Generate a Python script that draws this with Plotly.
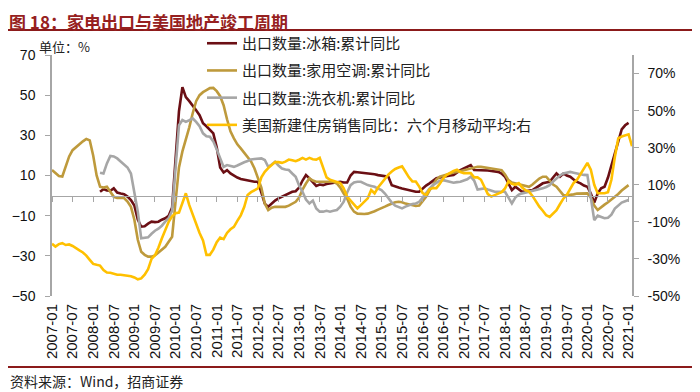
import pandas as pd
import plotly.graph_objects as go

# ---------------- data ----------------
months = pd.date_range("2007-01-01", "2021-02-01", freq="MS").strftime("%Y-%m").tolist()
tick_labels = months[::6]

# 出口数量:家用空调:累计同比 (2007-01 .. 2021-01)
ac = [12.7, 11, 9.7, 9.5, 14, 19.5, 22.6, 24.2, 25.5, 27, 28.2, 27.5,
      20, 10, 4.4, 4.0, 4.4, 2, -0.6, -1.2, -1.2, -1.2, -3, -5.6,
      -12, -22, -28, -29.5, -30.4, -30.4, -29.8, -28.5, -27, -25.5, -23, -20.5,
      -3, 14, 22, 27.6, 34, 41, 47, 50, 51.5, 52.5, 53.5, 53.6,
      52, 49.5, 45, 38, 32, 28.5, 25.5, 23.5, 21.5, 19, 17, 13.5,
      9, 4, -4, -7.2, -6, -5.6, -5.6, -5.6, -5.6, -5, -4, -3.1,
      -1, 3, 6, 8.6, 7.5, 6.9, 6.9, 6.9, 6.9, 6.9, 6.9, 6,
      4, 1, -1.5, -5.5, -8, -9, -9.2, -9.2, -9, -8.5, -7.8, -7,
      -6.4, -5.5, -4.7, -4, -3.3, -3.1, -3.3, -4, -4.5, -4.7, -5.2, -5,
      -3, -0.6, 2.5, 5.5, 8, 9.4, 10, 10.5, 11, 11.5, 11.8, 12.2,
      12.8, 13.2, 13.5, 14, 14.3, 14.3, 14, 13.8, 13.5, 13.2, 13, 12.7,
      10.5, 7.7, 6.5, 6.1, 5.6, 5.2, 4.8, 4.4, 5.5, 7, 8.5, 9.4,
      9.4, 7.5, 5.5, 4.4, 2, 0.2, 0.2, 0.3, 0.6, 1, 1.1, 1.1,
      1.1, -1, -5, -7.2, -5.6, -4.5, -3.3, -2, -0.8, 0.8, 2.5, 4, 5.2]

# 出口数量:冰箱:累计同比 (2008-03 .. 2021-01)
fridge_start = "2008-03"
fridge = [1.9, 3.2, 2.5, 2.4, 3.6, 1.5, 1, 0.7, -0.5, -2.2,
          -5, -12, -15.5, -15.3, -14, -13, -13.2, -13, -12, -11.3, -10, -6,
          18, 42, 54, 49, 47, 45, 42.5, 40, 36, 34.5, 32.5, 31,
          24, 14, 11.5, 12.7, 11, 9.8, 9, 8.3, 7.9, 7.7, 7.2, 6.9,
          6.9, 1, -4, -5.6, -4, -2.5, -1.4, -0.6, 0.2, 0.8, 1.9, 2.2,
          4, 7.5, 10.2, 8.6, 6.5, 4.8, 5.5, 5.2, 5.8, 6.1, 6.5, 6.9,
          6.9, 6.5, 6.5, 10, 11.8, 11.6, 11.4, 11.2, 11.1, 11, 10.6, 10.2,
          10, 9.7, 9.4, 5.2, 4.4, 4, 3.5, 3.1, 2.7, 2.3, 1.9, 1.9,
          3.5, 5, 6.1, 7.5, 8.6, 9, 9.4, 9.8, 10, 10.2, 11.5, 12.7,
          13.5, 14.5, 15.2, 12.7, 12.7, 12.7, 12.7, 12.5, 12.2, 12, 11.8, 11,
          9.4, 6, 2.7, 4.4, 3, 1.9, 2.2, 2.5, 2.7, 3.8, 5, 6.1,
          6.5, 6.9, 9, 11, 9.4, 11, 10, 9.4, 8, 6.8, 6.1, 5,
          4.4, 1, -3.5, 1, 3.6, 4.4, 9, 15, 21, 27, 33, 35, 36.2]

# 出口数量:洗衣机:累计同比 (2008-03 .. 2021-01)
washer_start = "2008-03"
washer = [11.4, 11, 16, 19.7, 19.5, 18.5, 17, 15.5, 14, 11,
          2, -8, -21.3, -21, -20.8, -19, -17.5, -16.5, -15, -13, -11.3, -7.5,
          15, 35, 37.6, 36.7, 37.5, 38.4, 36.7, 34.5, 31, 29.5, 29.3, 27,
          23, 19, 14.3, 15.2, 14.8, 14.3, 15, 16, 16.6, 17.2, 18, 18.2,
          18.3, 18.5, 17.7, 14.3, 15.5, 16.8, 15, 13.5, 13, 12.7, 11, 9.4,
          5, 1.9, -2, -3.9, -2.5, -6.4, -8, -8, -7.6, -8, -7.6, -7.2,
          -5.5, -3, 1.5, 5.2, 6.5, 6.9, 6.9, 6, 5.2, 4.8, 4.4, 3.5,
          2.7, 1, -1.4, -3.5, -5, -5.6, -6.4, -5.5, -4.7, -4.2, -3.9, -3.1,
          -1, 1.5, 3.5, 5.2, 6.5, 7.4, 7.7, 7.2, 6.6, 6.4, 6.7, 6.9,
          7.5, 8.1, 9.4, 7.5, 3, 3.2, 3.6, 3, 2.5, 1.9, 1.9, 1.9,
          1.9, -1, -3.9, -1, 0.5, 1.1, 1.5, 1.9, 2.3, 2.7, 3.2, 3.6,
          4.3, 5.2, 7, 8.6, 10, 11, 11.5, 11.8, 11.4, 11, 10.6, 10.3,
          10.2, -2, -12.2, -10, -10.5, -11.3, -11, -9.5, -6.5, -5, -3.5, -2.8, -2.2]

# 美国新建住房销售同比：六个月移动平均 (right axis, 2007-01 .. 2021-02)
us_home = [-21.8, -23.3, -22, -21.5, -22.5, -22.2, -23, -24, -25.4, -26.5, -28.2, -30.5,
           -32.7, -33.2, -33.6, -36, -37.3, -37.5, -38, -38.5, -38.5, -38.7, -39, -39.3,
           -40, -41, -40.5, -38.5, -35.5, -30, -28, -24, -19, -14, -10, -7,
           -5.4, -5, 0, 5.4, -1, -6, -12, -16, -20, -27.8, -27.8, -25,
           -21, -18.5, -19.3, -16, -14, -12.7, -9.5, -6.5, -2, 4.5, 6, 6.9,
           8, 14, 17, 19, 20.9, 22.3, 22.2, 21.8, 22.5, 23.6, 23.2, 22.7,
           23.5, 24.5, 23.6, 24.5, 23.8, 23.6, 24.5, 19, 14, 12.7, 12.2, 11.5,
           10.9, 8, 3.6, 1.5, -0.9, -2.7, -1, 0.9, 2.7, 7.2, 5.4, 8.5,
           10.9, 13.6, 15.5, 17.2, 18.5, 19.3, 19.9, 17, 14, 11.8, 11.8, 9,
           5.5, 4.5, 7.5, 8.2, 8.2, 10.5, 13.5, 15.4, 16.5, 17.5, 18.1, 16.8,
           16.3, 16.3, 16.3, 14, 14, 12.7, 9, 5, 3.6, 4.5, 5.4, 6,
           8, 11.8, 10.5, 10, 10.9, 8.5, 7, 6.3, 4, 1, -1.8, -4,
           -6.4, -7.3, -5.5, -3.7, -0.5, 2.5, 4.5, 7.5, 11, 12.7, 15.5, 19,
           21.8, 18.1, 10, 5.4, 5.4, 5.4, 6, 12.7, 25, 35, 36, 36.5, 37.2, 30.8]

names = ["出口数量:冰箱:累计同比", "出口数量:家用空调:累计同比",
         "出口数量:洗衣机:累计同比", "美国新建住房销售同比：六个月移动平均:右"]
colors = ["#6B0F14", "#BE9A3C", "#A6A6A6", "#FFC000"]

left_ticks = [-50, -30, -10, 10, 30, 50, 70]
right_ticks = [-50, -30, -10, 10, 30, 50, 70]
right_labels = [f"{v}%" for v in right_ticks]

# ---------------- figure ----------------
# the page body has an 8px margin, so the figure is 692x384 and everything
# below is expressed in screen pixels of the 700x392 window
OFF = 8
W, H = 700 - OFF, 392 - OFF
L, R, T, B = 52 - OFF, 68, 55 - OFF, 96
PW, PH = W - L - R, H - T - B


def px(xs):
    return (xs - OFF - L) / PW


def py(ys):
    return (H - B - (ys - OFF)) / PH


fi = months.index(fridge_start)
wi = months.index(washer_start)

fig = go.Figure()
fig.add_trace(go.Scatter(x=months[fi:fi + len(fridge)], y=fridge, name=names[0],
                         mode="lines", line=dict(color=colors[0], width=2.6),
                         legendgroup="a"))
fig.add_trace(go.Scatter(x=months[:len(ac)], y=ac, name=names[1],
                         mode="lines", line=dict(color=colors[1], width=2.6),
                         legendgroup="b"))
fig.add_trace(go.Scatter(x=months[wi:wi + len(washer)], y=washer, name=names[2],
                         mode="lines", line=dict(color=colors[2], width=2.6),
                         legendgroup="c"))
fig.add_trace(go.Scatter(x=months[:len(us_home)], y=us_home, name=names[3],
                         mode="lines", line=dict(color=colors[3], width=2.6),
                         yaxis="y2", legendgroup="d"))
# helper (empty) trace so that the zero-line axis is drawn
fig.add_trace(go.Scatter(x=[None], y=[None], xaxis="x2", yaxis="y",
                         showlegend=False, hoverinfo="skip"))

axis_gray = "#A6A6A6"
tick_font = dict(family="Liberation Sans, Arial", size=14, color="#111111")

fig.update_layout(
    width=W, height=H,
    margin=dict(l=L, r=R, t=T, b=B, autoexpand=False),
    paper_bgcolor="white", plot_bgcolor="white",
    showlegend=True,
    xaxis=dict(type="category", categoryorder="array", categoryarray=months,
               range=[0, len(months) - 1], tickvals=tick_labels, ticktext=tick_labels,
               tickangle=-90, ticks="", showline=False, showgrid=False,
               zeroline=False, automargin=False, ticklabelstandoff=4,
               tickfont=dict(family="Liberation Sans, Arial", size=15, color="#111111")),
    xaxis2=dict(overlaying="x", anchor="free", position=50 / 120,
                range=[0, len(months) - 1],
                tickvals=list(range(0, len(months), 6)),
                ticks="outside", ticklen=5, tickcolor=axis_gray,
                showline=True, linecolor=axis_gray, linewidth=1,
                showticklabels=False, showgrid=False, zeroline=False),
    yaxis=dict(range=[-50, 70], tickvals=left_ticks, ticks="outside", ticklen=5,
               tickcolor=axis_gray, showline=True, linecolor=axis_gray, linewidth=1.5,
               showgrid=False, zeroline=False, tickfont=tick_font, automargin=False,
               ticklabelstandoff=7),
    yaxis2=dict(overlaying="y", side="right", range=[-50, 80], tickvals=right_ticks,
                ticktext=right_labels, ticks="outside", ticklen=5, tickcolor=axis_gray,
                showline=True, linecolor=axis_gray, linewidth=1.5,
                showgrid=False, zeroline=False, tickfont=tick_font, automargin=False,
                ticklabelstandoff=6),
    legend=dict(x=px(202), y=py(27), xanchor="left", yanchor="top",
                bgcolor="rgba(0,0,0,0)", tracegroupgap=4.7,
                font=dict(family="Noto Sans CJK SC", size=15, color="#222222")),
)

fig.add_annotation(text="<b>图 18：家电出口与美国地产竣工周期</b>", xref="paper", yref="paper",
                   x=px(8), y=py(8), xanchor="left", yanchor="top", showarrow=False,
                   borderpad=0,
                   font=dict(family="Noto Sans CJK SC", size=17, color="#962020"))
fig.add_annotation(text="单位：%", xref="paper", yref="paper",
                   x=px(37), y=py(47), xanchor="left", yanchor="middle", showarrow=False,
                   font=dict(family="Noto Sans CJK SC", size=13, color="#222222"))
fig.add_annotation(text="资料来源：Wind，招商证券", xref="paper", yref="paper",
                   x=px(8), y=py(381), xanchor="left", yanchor="middle", showarrow=False,
                   font=dict(family="Noto Sans CJK SC", size=14, color="#222222"))

fig.add_shape(type="line", xref="paper", yref="paper",
              x0=px(8), x1=px(696), y0=py(30), y1=py(30),
              line=dict(color="#8B1A1A", width=2))
fig.add_shape(type="line", xref="paper", yref="paper",
              x0=px(8), x1=px(696), y0=py(367), y1=py(367),
              line=dict(color="#8B1A1A", width=2))

fig.write_html("out.html")
